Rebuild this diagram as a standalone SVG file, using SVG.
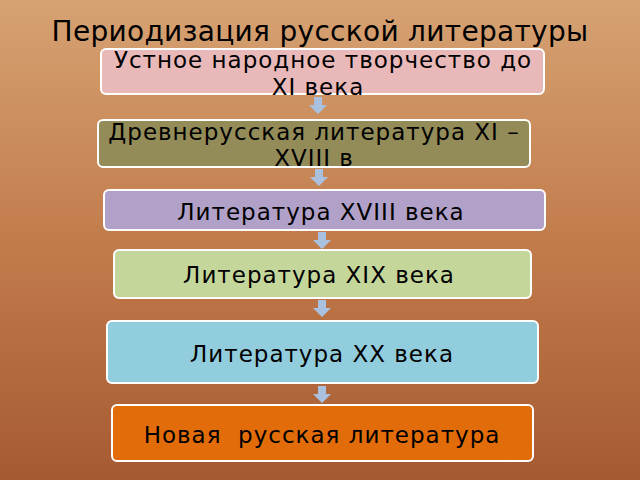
<svg xmlns="http://www.w3.org/2000/svg" width="640" height="480" viewBox="0 0 640 480">
<defs>
<linearGradient id="bg" x1="0" y1="0" x2="0" y2="1">
<stop offset="0" stop-color="#d6a272"/>
<stop offset="0.5" stop-color="#c27c4c"/>
<stop offset="1" stop-color="#a65a32"/>
</linearGradient>
<path id="arr" d="M-4,0 H4 V8 H9 L0,17 L-9,8 H-4 Z"/>
</defs>
<style>
.box{stroke:#ffffff;stroke-width:2}
.t{font-family:"DejaVu Sans",sans-serif;font-size:23px;letter-spacing:1px;fill:#000000;text-anchor:middle;white-space:pre}
.title{font-family:"DejaVu Sans",sans-serif;font-size:28px;letter-spacing:0.3px;fill:#000000;text-anchor:middle}
.a{fill:#a9c0df}
</style>
<rect width="640" height="480" fill="url(#bg)"/>
<text class="title" x="320" y="41">Периодизация русской литературы</text>
<g id="connectors">
<use href="#arr" class="a" x="318" y="97"/>
<use href="#arr" class="a" x="319" y="169"/>
<use href="#arr" class="a" x="322" y="232"/>
<use href="#arr" class="a" x="322" y="300"/>
<use href="#arr" class="a" x="322" y="386"/>
</g>
<g id="n1"><rect class="box" x="101" y="49" width="443" height="45" rx="5" fill="#e8b9b8"/>
<text class="t" x="323" y="68">Устное народное творчество до</text>
<text class="t" x="318" y="95">XI века</text></g>
<g id="n2"><rect class="box" x="98" y="120" width="432" height="47" rx="5" fill="#948c58"/>
<text class="t" x="314" y="140">Древнерусская литература XI –</text>
<text class="t" x="314" y="166">XVIII в</text></g>
<g id="n3"><rect class="box" x="104" y="190" width="441" height="40" rx="5" fill="#b1a0c8"/>
<text class="t" x="321" y="220">Литература XVIII века</text></g>
<g id="n4"><rect class="box" x="114" y="250" width="417" height="48" rx="5" fill="#c5d69b"/>
<text class="t" x="319" y="283">Литература XIX века</text></g>
<g id="n5"><rect class="box" x="107" y="321" width="431" height="62" rx="5" fill="#92cddd"/>
<text class="t" x="322" y="362">Литература XX века</text></g>
<g id="n6"><rect class="box" x="112" y="405" width="421" height="56" rx="5" fill="#e36c0a"/>
<text class="t" x="322" y="443">Новая  русская литература</text></g>
</svg>
